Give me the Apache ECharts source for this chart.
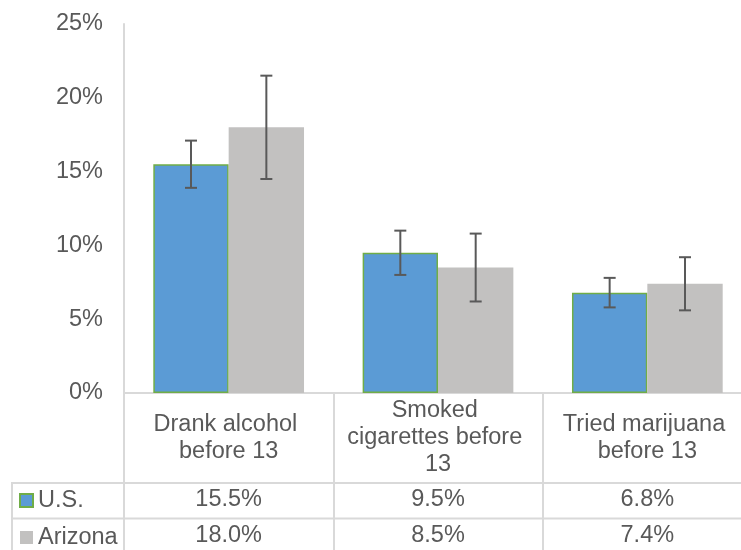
<!DOCTYPE html>
<html>
<head>
<meta charset="utf-8">
<script src="https://cdn.jsdelivr.net/npm/echarts@6/dist/echarts.min.js"></script>
<style>html,body{margin:0;padding:0;background:#fff}#c{width:741px;height:550px}</style>
</head>
<body>
<div id="c"></div>
<script>
// ---- data ----
const categories = ['Drank alcohol before 13', 'Smoked cigarettes before 13', 'Tried marijuana before 13'];
const seriesNames = ['U.S.', 'Arizona'];
const usValues = [15.5, 9.5, 6.8];
const azValues = [18.0, 8.5, 7.4];
const usLow = [13.9, 8.0, 5.8];
const usHigh = [17.1, 11.0, 7.8];
const azLow = [14.5, 6.2, 5.6];
const azHigh = [21.5, 10.8, 9.2];
const yTicks = [0, 5, 10, 15, 20, 25];

// ---- styling ----
const FONT = '"Liberation Sans", Arial, sans-serif';
const TXT = '#595959';
const LINE = '#d9d9d9';
const FS = 23.5;
const GAP = 0.28;

const chart = echarts.init(document.getElementById('c'), null, {renderer: 'canvas'});

function errSeries(low, high, sign) {
  return {
    type: 'custom',
    z: 5,
    silent: true,
    data: low.map((l, i) => [i, l, high[i]]),
    encode: {x: 0, y: [1, 2]},
    renderItem(params, api) {
      const i = api.value(0);
      const band = api.size([1, 0])[0];
      const off = sign * band * (1 - GAP) / 4;
      const pLo = api.coord([i, api.value(1)]);
      const pHi = api.coord([i, api.value(2)]);
      const x = pLo[0] + off;
      const cap = 6;
      const st = {stroke: TXT, lineWidth: 2};
      return {
        type: 'group',
        children: [
          {type: 'line', shape: {x1: x, y1: pLo[1], x2: x, y2: pHi[1]}, style: st},
          {type: 'line', shape: {x1: x - cap, y1: pLo[1], x2: x + cap, y2: pLo[1]}, style: st},
          {type: 'line', shape: {x1: x - cap, y1: pHi[1], x2: x + cap, y2: pHi[1]}, style: st}
        ]
      };
    }
  };
}

function rowAxis(values, margin) {
  return {
    type: 'category',
    data: categories,
    position: 'bottom',
    axisLine: {show: false},
    axisTick: {show: false},
    axisLabel: {
      interval: 0,
      margin: margin,
      verticalAlign: 'middle',
      color: TXT, fontSize: FS, fontFamily: FONT,
      formatter: (v, i) => values[i].toFixed(1) + '%'
    }
  };
}

const option = {
  animation: false,
  backgroundColor: '#fff',
  textStyle: {fontFamily: FONT},
  grid: {left: 124, width: 628, top: 24, height: 369, containLabel: false, outerBoundsMode: 'none'},
  legend: {
    data: seriesNames,
    orient: 'vertical',
    left: 19, top: 488.5,
    padding: 0,
    icon: 'rect',
    itemWidth: 13, itemHeight: 13,
    itemGap: 13,
    selectedMode: false,
    textStyle: {color: TXT, fontSize: FS, fontFamily: FONT, lineHeight: 23, padding: [0, 0, 0, 0]}
  },
  xAxis: [
    {
      type: 'category',
      data: categories,
      axisLine: {show: true, lineStyle: {color: LINE, width: 2}},
      axisTick: {show: true, interval: 0, length: 170, lineStyle: {color: LINE, width: 2}},
      axisLabel: {
        interval: 0,
        margin: 45,
        verticalAlign: 'middle',
        width: 184,
        overflow: 'break',
        lineHeight: 27,
        color: TXT, fontSize: FS, fontFamily: FONT, align: 'center'
      }
    },
    rowAxis(usValues, 107),
    rowAxis(azValues, 143)
  ],
  yAxis: {
    type: 'value',
    min: yTicks[0], max: yTicks[yTicks.length - 1], interval: 5,
    axisLine: {show: true, lineStyle: {color: LINE, width: 2}},
    axisTick: {show: false},
    splitLine: {show: false},
    axisLabel: {margin: 21, color: TXT, fontSize: FS, fontFamily: FONT, formatter: '{value}%'}
  },
  graphic: [
    {type: 'line', silent: true, shape: {x1: 12, y1: 483, x2: 760, y2: 483}, style: {stroke: LINE, lineWidth: 2}},
    {type: 'line', silent: true, shape: {x1: 12, y1: 518.5, x2: 760, y2: 518.5}, style: {stroke: LINE, lineWidth: 2}},
    {type: 'line', silent: true, shape: {x1: 12, y1: 482, x2: 12, y2: 560}, style: {stroke: LINE, lineWidth: 2}}
  ],
  series: [
    {
      name: seriesNames[0], type: 'bar', data: usValues,
      barGap: '0%', barCategoryGap: (GAP * 100) + '%',
      itemStyle: {color: '#5b9bd5', borderColor: '#70ad47', borderWidth: 1.5}
    },
    {
      name: seriesNames[1], type: 'bar', data: azValues,
      barGap: '0%', barCategoryGap: (GAP * 100) + '%',
      itemStyle: {color: '#c2c1c0'}
    },
    errSeries(usLow, usHigh, -1),
    errSeries(azLow, azHigh, 1)
  ]
};
chart.setOption(option);
</script>
</body>
</html>
